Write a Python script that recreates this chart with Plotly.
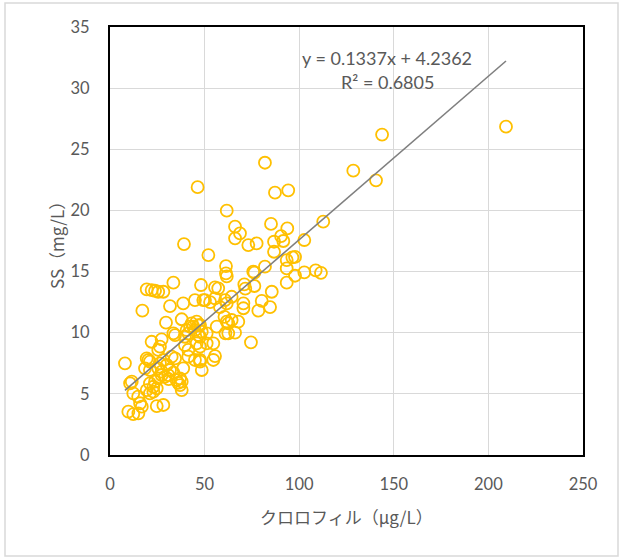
import plotly.graph_objects as go

# Chlorophyll (ug/L) vs SS (mg/L)
chl = [
    209.3, 143.8, 128.6, 140.6, 112.7, 102.7, 97.8, 102.7, 108.7, 111.5, 97.8,
    46.3, 81.9, 87.2, 94.2, 61.7, 85.1, 66.1, 93.7, 68.7, 66.1, 90.4, 73.1, 77.5,
    86.7, 91.6, 86.7, 52.0, 93.4, 96.4, 81.9, 93.4, 61.3, 61.3, 61.7, 76.3, 39.1,
    48.1, 55.5, 57.2, 71.0, 71.5, 76.3, 93.4, 85.5, 75.7,
    84.6, 80.2, 78.4, 70.5, 70.5, 74.5, 62.5, 66.1, 61.7, 62.5, 64.3, 67.8, 56.4,
    50.2, 52.9, 55.5, 58.1, 60.8, 61.7, 64.3, 46.7, 48.5, 51.1, 54.6, 55.5, 47.6,
    48.5, 60.5, 61.0,
    33.5, 19.4, 22.0, 23.8, 25.5, 28.2, 17.1, 31.7, 38.7, 29.6, 37.9, 43.2, 45.8,
    47.6, 34.4, 40.5, 41.4, 22.0, 27.3, 26.4, 25.5, 39.6, 41.4, 32.6, 34.4, 47.6,
    7.9, 19.4, 21.1, 11.5, 10.6, 37.0, 37.0, 37.9, 31.7, 33.5, 12.3, 14.9, 15.9,
    16.8, 9.7, 12.3, 15.0, 24.7, 28.2, 19.4, 21.1, 22.9, 21.1, 23.8, 25.5, 27.3,
    29.1, 30.8, 22.9, 24.7, 18.5, 21.1, 26.4, 28.2, 30.0, 25.5, 27.3, 41.4, 44.9,
    35.2, 20.3, 44.9, 49.3, 42.3, 44.0, 33.5, 39.6, 44.9, 46.7, 47.6, 51.1, 45.8,
    47.6, 54.6, 38.7, 37.9, 31.0, 36.0,
]
ss = [
    26.85, 26.2, 23.25, 22.46, 19.08, 17.58, 16.2, 14.94, 15.1, 14.9, 14.66,
    21.9, 23.9, 21.45, 21.64, 19.98, 18.9, 18.67, 18.53, 18.13, 17.72, 17.9, 17.17, 17.3,
    17.44, 17.5, 16.62, 16.35, 15.94, 16.16, 15.4, 15.26, 15.45, 14.85, 14.6, 14.91, 17.25,
    13.9, 13.71, 13.63, 13.95, 13.6, 13.82, 14.09, 13.35, 15.0,
    12.1, 12.6, 11.8, 12.4, 12.0, 9.21, 9.95, 10.0, 10.9, 10.77, 11.04, 10.9, 10.5,
    12.67, 12.5, 12.8, 12.1, 12.67, 12.4, 12.94, 10.6, 10.08, 9.13, 9.13, 8.09, 7.63,
    6.95, 11.3, 9.95,
    14.09, 13.55, 13.49, 13.43, 13.35, 13.35, 11.8, 12.18, 12.4, 10.82, 11.1, 10.77, 10.9,
    10.63, 9.81, 10.22, 9.95, 9.26, 9.46, 8.86, 8.59, 8.99, 8.59, 8.04, 7.9, 7.77,
    7.5, 7.9, 7.63, 6.0, 5.86, 6.27, 5.72, 5.31, 6.95, 6.73, 5.04, 4.77, 4.23,
    3.95, 3.54, 3.35, 3.41, 4.0, 4.09, 5.31, 5.04, 5.18, 5.86, 6.0, 6.27, 6.54,
    6.4, 6.54, 5.58, 5.45, 7.09, 6.95, 7.5, 7.77, 7.36, 7.09, 6.81, 8.04, 7.77,
    6.13, 7.77, 12.67, 12.67, 10.5, 10.49, 9.95, 9.67, 10.22, 9.81, 9.67, 9.95, 9.13,
    8.86, 7.77, 7.09, 6.0, 6.2, 5.9,
]

slope = 0.1337
intercept = 4.2362
r2 = 0.6805

x_ticks = [0, 50, 100, 150, 200, 250]
y_ticks = [0, 5, 10, 15, 20, 25, 30, 35]

x_title = "クロロフィル（μg/L）"
y_title = "SS（mg/L）"

x0, x1 = min(chl), max(chl)

fig = go.Figure()
fig.add_trace(go.Scatter(
    x=chl, y=ss, mode="markers",
    marker=dict(symbol="circle-open", size=12, color="#FFC000",
                line=dict(width=1.8, color="#FFC000")),
    showlegend=False, hoverinfo="x+y",
))
fig.add_trace(go.Scatter(
    x=[x0, x1], y=[slope * x0 + intercept, slope * x1 + intercept],
    mode="lines", line=dict(color="#7F7F7F", width=1.6),
    showlegend=False, hoverinfo="skip",
))

tick_font = dict(family="Lato, 'Noto Sans', sans-serif", size=16.5, color="#595959")
title_font = dict(family="'Noto Sans CJK JP', sans-serif", size=17, color="#595959")
eq_font = dict(family="Lato, sans-serif", size=18, color="#595959")

fig.update_layout(
    width=619, height=558,
    margin=dict(l=110, r=36, t=27, b=103),
    paper_bgcolor="white", plot_bgcolor="white",
    xaxis=dict(range=[0, 250], tickvals=x_ticks, showgrid=True, gridcolor="#D9D9D9",
               gridwidth=1, zeroline=False, showline=True, linecolor="black",
               linewidth=2, mirror=True, tickfont=tick_font, ticks="",
               ticklabelstandoff=13),
    yaxis=dict(range=[0, 35], tickvals=y_ticks, showgrid=True, gridcolor="#D9D9D9",
               gridwidth=1, zeroline=False, showline=True, linecolor="black",
               linewidth=2, mirror=True, tickfont=tick_font, ticks="",
               ticklabelstandoff=15),
    annotations=[
        dict(text=f"y = {slope}x + {intercept}", x=146.6, y=32.5, xref="x", yref="y",
             showarrow=False, xanchor="center", yanchor="middle", font=eq_font),
        dict(text=f"R² = {r2}", x=146.9, y=30.52, xref="x", yref="y",
             showarrow=False, xanchor="center", yanchor="middle", font=eq_font),
        dict(text=x_title, x=0.5, y=-0.143, xref="paper", yref="paper",
             showarrow=False, xanchor="center", yanchor="middle", font=title_font),
        dict(text=y_title, x=-0.1142, y=0.5, xref="paper", yref="paper", textangle=-90,
             showarrow=False, xanchor="center", yanchor="middle", font=title_font),
    ],
    shapes=[
        dict(type="rect", xref="paper", yref="paper",
             x0=-105 / 473, x1=(618 - 110) / 473,
             y0=-(556 - 455) / 428, y1=(455 - 3) / 428,
             line=dict(color="#D9D9D9", width=1.5), layer="below"),
    ],
)

fig.write_html("out.html")
